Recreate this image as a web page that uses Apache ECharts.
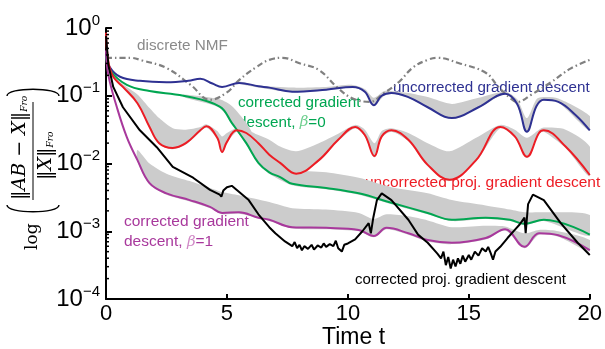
<!DOCTYPE html>
<html>
<head>
<meta charset="utf-8">
<script src="https://cdn.jsdelivr.net/npm/echarts@6/dist/echarts.min.js"></script>
<style>
  html, body { margin: 0; padding: 0; background: #fff; }
  #chart { width: 605px; height: 349px; }
</style>
</head>
<body>
<div id="chart"></div>
<script>
// all curve values are log10 exponents: [t, exponent]
var nmfData = [[0,-0.44],[1,-0.44],[1.5,-0.48],[2.5,-0.59],[3.5,-0.84],[4.3,-1.06],[5.0,-0.95],[5.5,-0.77],[6.2,-0.58],[6.75,-0.47],[7.3,-0.44],[8.0,-0.52],[8.8,-0.62],[9.6,-0.89],[10.2,-1.04],[10.9,-1.09],[11.5,-0.96],[12.1,-0.80],[12.7,-0.58],[13.3,-0.47],[13.7,-0.44],[14.6,-0.52],[15.7,-0.66],[16.2,-0.86],[16.7,-1.03],[17.0,-1.09],[17.6,-0.98],[18.4,-0.80],[19.2,-0.60],[20,-0.47]];
var blueData = [[0,-0.40],[0.16,-0.58],[0.58,-0.72],[1.4,-0.78],[2.5,-0.80],[3.4,-0.78],[3.9,-0.75],[4.4,-0.82],[4.8,-0.87],[5.5,-0.81],[6.3,-0.86],[6.75,-0.88],[7.7,-0.94],[9.1,-0.91],[10.2,-0.87],[10.7,-0.94],[11.07,-1.14],[11.4,-1.0],[11.8,-0.96],[12.5,-1.02],[13.3,-1.17],[14.3,-1.33],[15.4,-1.17],[16.5,-0.97],[17.0,-1.12],[17.4,-1.53],[17.8,-1.15],[18.1,-1.06],[18.7,-1.09],[19.4,-1.28],[20,-1.51]];
var greenData = [[0,-0.42],[0.16,-0.62],[0.86,-0.84],[1.8,-0.93],[3.2,-1.0],[4.7,-1.16],[5.2,-1.40],[5.8,-1.70],[6.3,-1.99],[6.75,-2.13],[7.2,-2.20],[7.7,-2.30],[9.1,-2.36],[10.45,-2.44],[11.8,-2.58],[13.3,-2.73],[14.3,-2.83],[15.7,-2.80],[16.7,-2.83],[17.3,-2.89],[18.1,-2.83],[20,-3.05]];
var redData = [[0,-0.07],[0.1,-0.50],[0.3,-0.72],[0.7,-0.87],[1.3,-1.11],[1.8,-1.46],[2.2,-1.70],[2.76,-1.77],[3.3,-1.70],[3.9,-1.51],[4.15,-1.45],[4.6,-1.62],[4.8,-1.83],[5.0,-1.68],[5.4,-1.51],[5.8,-1.55],[6.3,-1.70],[6.75,-1.87],[7.2,-1.99],[7.86,-2.15],[8.8,-1.95],[9.6,-1.65],[10.3,-1.46],[10.7,-1.58],[11.1,-1.89],[11.4,-1.60],[11.8,-1.51],[12.5,-1.65],[13.3,-2.02],[14.2,-2.24],[15.3,-1.95],[16.3,-1.46],[16.9,-1.60],[17.4,-1.90],[17.9,-1.55],[18.1,-1.51],[19.0,-1.75],[20,-2.17]];
var magentaData = [[0,-0.33],[0.1,-0.70],[0.45,-1.17],[0.86,-1.61],[1.3,-1.95],[1.8,-2.29],[2.5,-2.44],[3.46,-2.54],[4.3,-2.64],[4.8,-2.73],[5.5,-2.72],[6.3,-2.80],[6.75,-2.83],[7.7,-2.94],[9.1,-2.95],[10.45,-2.98],[11.07,-3.07],[11.6,-2.95],[12.5,-3.03],[13.3,-3.13],[14.3,-3.17],[15.7,-3.10],[16.5,-2.97],[17.3,-3.23],[17.9,-3.03],[18.7,-3.06],[20,-3.28]];
var blackData = [[0,-0.12],[0.1,-0.55],[0.3,-0.87],[0.7,-1.17],[1.4,-1.51],[2.1,-1.76],[2.76,-2.05],[3.6,-2.21],[4.3,-2.39],[4.7,-2.46],[4.77,-2.49],[4.85,-2.40],[5.0,-2.35],[5.2,-2.33],[5.9,-2.54],[6.3,-2.75],[6.75,-2.94],[7.0,-3.03],[7.4,-3.15],[7.7,-3.22],[7.8,-3.16],[7.9,-3.25],[8.0,-3.20],[8.1,-3.28],[8.2,-3.22],[8.35,-3.26],[8.5,-3.20],[8.6,-3.27],[8.75,-3.21],[8.9,-3.24],[9.0,-3.18],[9.1,-3.23],[9.25,-3.19],[9.4,-3.22],[9.5,-3.14],[9.6,-3.25],[9.75,-3.30],[9.85,-3.20],[10.0,-3.18],[10.3,-3.12],[10.6,-3.00],[10.86,-2.88],[10.95,-3.03],[11.05,-2.80],[11.2,-2.54],[11.4,-2.44],[11.8,-2.54],[12.5,-2.83],[12.9,-3.05],[13.3,-3.17],[13.7,-3.33],[13.85,-3.40],[13.95,-3.30],[14.05,-3.50],[14.15,-3.38],[14.25,-3.55],[14.35,-3.42],[14.45,-3.52],[14.55,-3.40],[14.65,-3.48],[14.75,-3.36],[14.85,-3.45],[15.0,-3.35],[15.1,-3.42],[15.25,-3.30],[15.4,-3.36],[15.55,-3.25],[15.7,-3.30],[15.8,-3.23],[15.9,-3.32],[16.0,-3.42],[16.1,-3.30],[16.3,-3.23],[16.6,-3.10],[16.9,-2.98],[17.1,-2.90],[17.2,-2.85],[17.3,-2.80],[17.35,-3.03],[17.45,-2.60],[17.65,-2.46],[18.1,-2.54],[18.8,-2.88],[19.5,-3.17],[20,-3.35]];

// gray spread bands: [t, low exponent, high exponent]
var blueBand = [[5.5,-0.82,-0.79],[6.3,-0.88,-0.85],[7.7,-0.95,-0.88],[9.1,-0.92,-0.87],[10.2,-0.88,-0.84],[10.7,-0.95,-0.90],[11.07,-1.15,-1.03],[11.5,-1.0,-0.93],[11.8,-0.97,-0.93],[12.5,-1.03,-0.96],[13.3,-1.18,-1.02],[14.3,-1.34,-1.12],[15.4,-1.18,-1.03],[16.5,-0.98,-0.94],[17.0,-1.15,-1.05],[17.4,-1.54,-1.33],[17.8,-1.15,-1.05],[18.1,-1.07,-1.02],[18.7,-1.10,-1.04],[20,-1.52,-1.30]];
var redBand = [[0.3,-0.74,-0.70],[0.7,-0.89,-0.83],[1.3,-1.13,-0.98],[1.8,-1.48,-1.18],[2.2,-1.72,-1.33],[2.76,-1.79,-1.48],[3.3,-1.72,-1.50],[3.9,-1.53,-1.46],[4.15,-1.47,-1.42],[4.6,-1.64,-1.52],[4.8,-1.85,-1.60],[5.0,-1.70,-1.55],[5.4,-1.53,-1.48],[5.8,-1.57,-1.50],[6.3,-1.72,-1.58],[6.75,-1.89,-1.65],[7.2,-2.01,-1.75],[7.86,-2.17,-1.82],[8.8,-1.97,-1.70],[9.6,-1.67,-1.56],[10.3,-1.48,-1.43],[10.7,-1.60,-1.50],[11.1,-1.91,-1.70],[11.4,-1.62,-1.52],[11.8,-1.53,-1.48],[12.5,-1.67,-1.55],[13.3,-2.04,-1.70],[14.2,-2.26,-1.82],[15.3,-1.97,-1.62],[16.3,-1.48,-1.43],[16.9,-1.62,-1.50],[17.4,-1.92,-1.62],[17.9,-1.57,-1.50],[18.1,-1.53,-1.47],[19.0,-1.77,-1.50],[20,-2.19,-1.75]];
var greenBand = [[3.2,-1.02,-0.98],[4.7,-1.18,-1.05],[5.2,-1.42,-1.15],[5.8,-1.72,-1.40],[6.3,-2.01,-1.70],[6.75,-2.15,-1.85],[7.7,-2.32,-2.08],[9.1,-2.38,-2.13],[10.45,-2.46,-2.21],[11.8,-2.60,-2.35],[13.3,-2.75,-2.44],[14.3,-2.85,-2.54],[15.7,-2.82,-2.62],[16.7,-2.85,-2.68],[17.3,-2.91,-2.72],[18.1,-2.85,-2.72],[20,-3.07,-2.76]];
var magentaBand = [[1.3,-1.97,-1.80],[1.8,-2.31,-2.0],[2.5,-2.46,-2.15],[3.46,-2.56,-2.26],[4.3,-2.66,-2.36],[4.8,-2.75,-2.42],[5.5,-2.74,-2.47],[6.75,-2.85,-2.57],[7.7,-2.96,-2.66],[9.1,-2.97,-2.68],[10.45,-3.0,-2.73],[11.07,-3.09,-2.82],[11.6,-2.97,-2.75],[12.5,-3.05,-2.78],[13.3,-3.15,-2.84],[14.3,-3.19,-2.94],[15.7,-3.12,-2.92],[16.5,-2.99,-2.93],[17.3,-3.25,-3.03],[17.9,-3.05,-2.98],[18.7,-3.08,-3.0],[20,-3.30,-3.13]];

var xTicks = [0, 5, 10, 15, 20];
var yTicks = [1e-4, 1e-3, 1e-2, 1e-1, 1];
var minorTicks = [];
[1e-4, 1e-3, 1e-2, 1e-1].forEach(function (d) {
    for (var m = 2; m <= 9; m++) minorTicks.push(m * d);
});

var font = 'Liberation Sans, Arial, sans-serif';
var serif = 'DejaVu Serif, Liberation Serif, serif';

function toVal(rows) {
    return rows.map(function (r) { return [r[0], Math.pow(10, r[1])]; });
}

function bandSeries(band) {
    var rows = band.map(function (r) { return [r[0], Math.pow(10, r[1]), Math.pow(10, r[2])]; });
    return {
        type: 'custom',
        silent: true,
        clip: true,
        z: 1,
        data: rows,
        encode: { x: 0, y: [1, 2] },
        renderItem: function (params, api) {
            if (params.dataIndex !== 0) return;
            var top = rows.map(function (r) { return api.coord([r[0], r[2]]); });
            var bot = rows.map(function (r) { return api.coord([r[0], r[1]]); }).reverse();
            return {
                type: 'polygon',
                shape: { points: top.concat(bot), smooth: 0.25 },
                style: { fill: '#cccccc' }
            };
        }
    };
}

function lineSeries(name, data, color, smooth) {
    return {
        name: name,
        type: 'line',
        data: toVal(data),
        showSymbol: false,
        smooth: smooth,
        z: 3,
        lineStyle: { color: color, width: 2 }
    };
}

// bracket drawn in the rotated frame of the y-axis title
function paren(x, dir) {
    return {
        type: 'bezierCurve',
        shape: { x1: x, y1: -26, cpx1: x - dir * 9, cpy1: -26, cpx2: x - dir * 9, cpy2: 26, x2: x, y2: 26 },
        style: { stroke: '#000', lineWidth: 1.4, fill: null }
    };
}

var chart = echarts.init(document.getElementById('chart'));

var option = {
    animation: false,
    backgroundColor: '#fff',
    grid: { left: 106, right: 13, top: 28, bottom: 50 },
    xAxis: {
        type: 'value',
        min: 0,
        max: 20,
        interval: 5,
        splitLine: { show: false },
        axisLine: { lineStyle: { color: '#000', width: 2 } },
        axisTick: { inside: true, length: 5, lineStyle: { color: '#000', width: 2 } },
        axisLabel: {
            color: '#000', fontSize: 22, fontFamily: font, margin: 4,
            formatter: function (v) { return xTicks.indexOf(v) >= 0 ? String(v) : ''; }
        }
    },
    yAxis: {
        type: 'log',
        logBase: 10,
        min: 1e-4,
        max: 1,
        splitLine: { show: false },
        axisLine: { lineStyle: { color: '#000', width: 2 } },
        axisTick: { inside: true, length: 6, lineStyle: { color: '#000', width: 2 } },
        axisLabel: {
            color: '#000', margin: 6,
            formatter: function (v) {
                var e = Math.round(Math.log10(v));
                return '{b|10}{e|' + (e < 0 ? '\u2212' + (-e) : e) + '}';
            },
            rich: {
                b: { fontSize: 24, fontFamily: font, color: '#000' },
                e: { fontSize: 15, fontFamily: font, color: '#000', padding: [0, 0, 15, 0] }
            }
        }
    },
    series: [
        bandSeries(blueBand),
        bandSeries(redBand),
        bandSeries(greenBand),
        bandSeries(magentaBand),
        {
            type: 'custom',
            silent: true,
            clip: false,
            z: 5,
            data: minorTicks.map(function (v) { return [0, v]; }),
            renderItem: function (params, api) {
                var p = api.coord([0, api.value(1)]);
                return {
                    type: 'line',
                    shape: { x1: p[0], y1: p[1], x2: p[0] + 3, y2: p[1] },
                    style: { stroke: '#000', lineWidth: 1.5 }
                };
            }
        },
        {
            name: 'discrete NMF', type: 'line', data: toVal(nmfData), showSymbol: false, smooth: 0.4, z: 2,
            lineStyle: { color: '#808080', width: 2.2, type: [6, 3, 1.5, 3] }
        },
        lineSeries('uncorrected gradient descent', blueData, '#2e3192', 0.4),
        lineSeries('corrected gradient descent, beta=0', greenData, '#00a651', 0.4),
        lineSeries('uncorrected proj. gradient descent', redData, '#ed1c24', 0.4),
        lineSeries('corrected gradient descent, beta=1', magentaData, '#a8389c', 0.4),
        lineSeries('corrected proj. gradient descent', blackData, '#000000', false)
    ],
    graphic: [
        { type: 'text', left: 137, top: 38, style: { text: 'discrete NMF', font: '15.3px ' + font, fill: '#8a8a8a' } },
        { type: 'text', left: 393, top: 80, style: { text: 'uncorrected gradient descent', font: '15.2px ' + font, fill: '#2e3192' } },
        { type: 'text', left: 238, top: 95, style: { text: 'corrected gradient', font: '15.2px ' + font, fill: '#00a651' } },
        { type: 'text', left: 238, top: 115, style: {
            text: '{a|descent, }{g|\u03b2}{a|=0}',
            rich: { a: { font: '15.2px ' + font, fill: '#00a651' }, g: { font: 'italic 15px ' + serif, fill: '#6fcf8f' } }
        } },
        { type: 'text', left: 365, top: 175, style: { text: 'uncorrected proj. gradient descent', font: '15.5px ' + font, fill: '#ed1c24' } },
        { type: 'text', left: 124, top: 214, style: { text: 'corrected gradient', font: '15.5px ' + font, fill: '#a8389c' } },
        { type: 'text', left: 124, top: 234, style: {
            text: '{a|descent, }{g|\u03b2}{a|=1}',
            rich: { a: { font: '15.5px ' + font, fill: '#a8389c' }, g: { font: 'italic 15px ' + serif, fill: '#d089c6' } }
        } },
        { type: 'text', left: 355, top: 272, style: { text: 'corrected proj. gradient descent', font: '15px ' + font, fill: '#000' } },
        { type: 'text', left: 322, top: 326, style: { text: 'Time t', font: '23px ' + font, fill: '#000' } },
        {
            type: 'group', x: 33, y: 160, rotation: Math.PI / 2,
            children: [
                { type: 'text', x: -90, y: 0, style: { text: 'log', font: '17px ' + serif, fill: '#000', verticalAlign: 'middle' } },
                paren(-45, 1),
                paren(64, -1),
                { type: 'line', shape: { x1: -40, y1: 0, x2: 58, y2: 0 }, style: { stroke: '#000', lineWidth: 1 } },
                { type: 'text', x: -40, y: -13, style: {
                    text: '{n|\u2016AB \u2212 X\u2016}{s|Fro}',
                    verticalAlign: 'middle',
                    rich: { n: { font: 'italic 19px ' + serif, fill: '#000' }, s: { font: 'italic 9px ' + serif, fill: '#000', padding: [9, 0, 0, 0] } }
                } },
                { type: 'text', x: -20, y: 13, style: {
                    text: '{n|\u2016X\u2016}{s|Fro}',
                    verticalAlign: 'middle',
                    rich: { n: { font: 'italic 19px ' + serif, fill: '#000' }, s: { font: 'italic 9px ' + serif, fill: '#000', padding: [9, 0, 0, 0] } }
                } }
            ]
        }
    ]
};

chart.setOption(option);
</script>
</body>
</html>
